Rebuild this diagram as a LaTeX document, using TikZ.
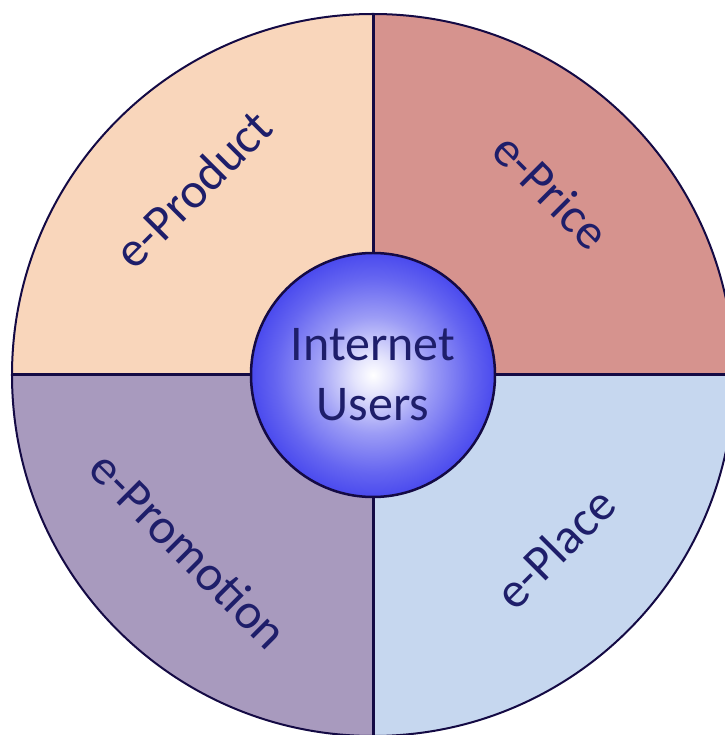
\documentclass[tikz,border=0pt]{standalone}
\usepackage{fontspec}
\setmainfont{Carlito}
\usetikzlibrary{backgrounds}
\definecolor{prodcol}{HTML}{F9D6BB}
\definecolor{pricecol}{HTML}{D6938E}
\definecolor{promocol}{HTML}{A89ABE}
\definecolor{placecol}{HTML}{C6D7EF}
\definecolor{linecol}{HTML}{140A44}
\definecolor{textcol}{HTML}{1E1E6A}
\definecolor{ballcol}{HTML}{4A4AEE}
\pgfdeclareradialshading{ballshade}{\pgfpoint{0bp}{0bp}}{%
  color(0bp)=(white);
  color(4bp)=(white!85!ballcol);
  color(12bp)=(white!45!ballcol);
  color(20bp)=(white!15!ballcol);
  color(25bp)=(ballcol);
  color(50bp)=(ballcol)}
\tikzset{
  divider/.style={draw=linecol, line width=3pt},
  rim/.style={draw=linecol, line width=2pt},
  quadlabel/.style={text=textcol, font=\fontsize{50}{58}\selectfont, inner sep=0pt},
  ball/.style={circle, minimum size=244pt, inner sep=0pt, draw=linecol, line width=2.5pt,
    shading=ballshade, text=textcol, align=center, font=\fontsize{50}{60}\selectfont}
}
\begin{document}
\begin{tikzpicture}[x=1pt,y=1pt]
\useasboundingbox (-373,-360) rectangle (351,375);
\clip (-373,-360) rectangle (351,375);
% outer rim points
\coordinate (top) at (90:361pt);
\coordinate (bottom) at (270:361pt);
\coordinate (left) at (180:361pt);
\coordinate (right) at (0:361pt);
% centre ball
\node[ball] (users) at (0,0) {Internet\\Users};
\begin{scope}[on background layer]
\fill[prodcol] (0,0) -- (top) arc (90:180:361pt) -- cycle;
\fill[pricecol] (0,0) -- (right) arc (0:90:361pt) -- cycle;
\fill[promocol] (0,0) -- (left) arc (180:270:361pt) -- cycle;
\fill[placecol] (0,0) -- (bottom) arc (270:360:361pt) -- cycle;
\draw[rim] (0,0) circle (361pt);
\draw[divider] (top) -- (users.north);
\draw[divider] (bottom) -- (users.south);
\draw[divider] (left) -- (users.west);
\draw[divider] (right) -- (users.east);
\end{scope}
% labels
\node[quadlabel, rotate=45] (product) at (-180,186) {e-Product};
\node[quadlabel, rotate=-45] (price) at (178,184) {e-Price};
\node[quadlabel, rotate=-45] (promotion) at (-184,-175) {e-Promotion};
\node[quadlabel, rotate=45] (place) at (182,-173) {e-Place};
\end{tikzpicture}
\end{document}
